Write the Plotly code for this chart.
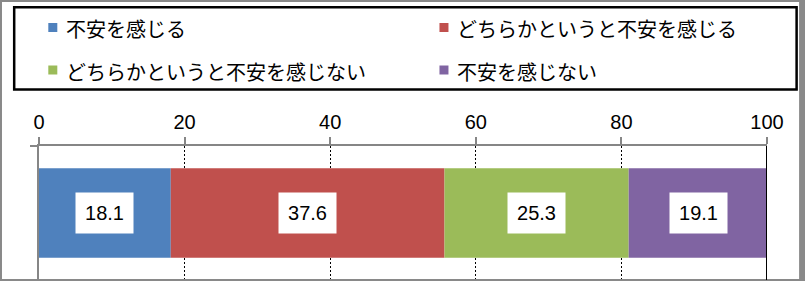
import plotly.graph_objects as go

categories = ["不安を感じる", "どちらかというと不安を感じる", "どちらかというと不安を感じない", "不安を感じない"]
values = [18.1, 37.6, 25.3, 19.1]
colors = ["#4F81BD", "#C0504D", "#9BBB59", "#8064A2"]
tick_vals = [0, 20, 40, 60, 80, 100]
tick_text = ["0", "20", "40", "60", "80", "100"]

W, H = 805, 281
L, R, T, B = 39, 38.3, 146, 1
pw = W - L - R
ph = H - T - B


def px(x):
    return (x - L) / pw


def py(y):
    return (H - B - y) / ph


fig = go.Figure()
bases = []
acc = 0.0
for name, v, c in zip(categories, values, colors):
    bases.append(acc)
    fig.add_trace(go.Bar(
        x=[v], y=[0], base=[acc], orientation="h", name=name,
        marker=dict(color=c, line=dict(width=0)), width=0.667,
        showlegend=False, hoverinfo="skip",
    ))
    acc += v

annotations = []
for b, v in zip(bases, values):
    annotations.append(dict(
        x=b + v / 2, y=0, xref="x", yref="y", text=f"{v}", showarrow=False,
        bgcolor="white", width=55, height=38,
        font=dict(family="Liberation Sans", size=20, color="black"),
    ))

shapes = []
# outer gray frame
shapes.append(dict(type="rect", xref="paper", yref="paper",
                   x0=px(1), y0=py(1), x1=px(800), y1=py(280),
                   line=dict(color="#898989", width=2)))
shapes.append(dict(type="rect", xref="paper", yref="paper",
                   x0=px(799), y0=py(0), x1=px(805), y1=py(281),
                   line=dict(width=0), fillcolor="#898989"))
# legend box
shapes.append(dict(type="rect", xref="paper", yref="paper",
                   x0=px(14.2), y0=py(7.2), x1=px(796.3), y1=py(89.5),
                   line=dict(color="black", width=2.5)))
# right boundary at 100
shapes.append(dict(type="line", xref="x", yref="paper", x0=100, x1=100, y0=0, y1=1,
                   line=dict(color="black", width=2)))

# manual legend
leg_pos = [(48.3, 27.5), (439.3, 27.5), (48.3, 70), (439.3, 70)]
for (lx, ly), name, c in zip(leg_pos, categories, colors):
    shapes.append(dict(type="rect", xref="paper", yref="paper",
                       x0=px(lx), x1=px(lx + 9), y0=py(ly - 4.5), y1=py(ly + 4.5),
                       line=dict(width=0), fillcolor=c))
    annotations.append(dict(
        x=px(lx + 15.5), y=py(ly + 1), xref="paper", yref="paper", text=name,
        showarrow=False, xanchor="left", yanchor="middle",
        font=dict(family="Noto Sans CJK JP", size=20, color="black"),
    ))

fig.update_layout(
    width=W, height=H,
    margin=dict(l=L, r=R, t=T, b=B, pad=0),
    paper_bgcolor="white", plot_bgcolor="white",
    barmode="overlay",
    showlegend=False,
    annotations=annotations,
    shapes=shapes,
    xaxis=dict(
        range=[0, 100], side="top", tickvals=tick_vals, ticktext=tick_text,
        ticks="outside", ticklen=7, tickwidth=2, tickcolor="#868686",
        showline=True, linecolor="#868686", linewidth=2,
        showgrid=True, gridcolor="black", gridwidth=1, griddash="2px,2px",
        zeroline=False,
        tickfont=dict(family="Liberation Sans", size=20, color="black"),
        fixedrange=True,
    ),
    yaxis=dict(
        range=[-0.5, 0.5], tickvals=[0.5, -0.5], ticks="outside", ticklen=7,
        tickwidth=2, tickcolor="#868686", showticklabels=False,
        showline=True, linecolor="#868686", linewidth=2,
        showgrid=False, zeroline=False, fixedrange=True,
    ),
)

fig.write_html("out.html")
